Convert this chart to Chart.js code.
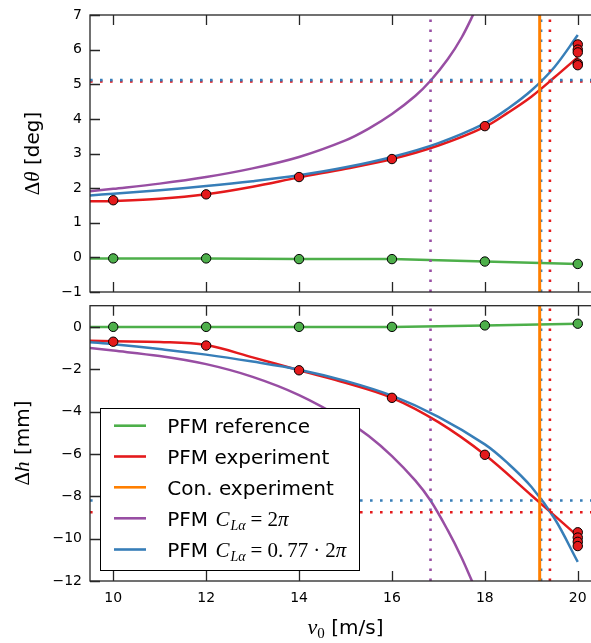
<!DOCTYPE html>
<html><head><meta charset="utf-8">
<script src="https://cdn.jsdelivr.net/npm/chart.js@4.4.1/dist/chart.umd.min.js"></script>
<style>
html,body{margin:0;padding:0;background:#fff;overflow:hidden;}
#wrap{position:relative;width:591px;height:643px;overflow:hidden;background:#fff;}
canvas{position:absolute;left:0;}
</style></head><body>
<div id="wrap">
<canvas id="cTop" width="610" height="300" style="top:0;width:610px;height:300px"></canvas>
<canvas id="cBot" width="610" height="343" style="top:300px;width:610px;height:343px"></canvas>
</div>
<script>
// ---- axes ----
const vTicks = [10, 12, 14, 16, 18, 20];
const vLim = [9.5, 20.5];
const thetaTicks = [-1, 0, 1, 2, 3, 4, 5, 6, 7];
const thetaLim = [-1, 7];
const hTicks = [-12, -10, -8, -6, -4, -2, 0];
const hLim = [-12, 1];

// ---- series names ----
const names = ['PFM reference', 'PFM experiment', 'Con. experiment', 'PFM C_Lα = 2π', 'PFM C_Lα = 0.77·2π'];
const colors = ['#4daf4a', '#e41a1c', '#ff7f00', '#984ea3', '#377eb8'];

// ---- measured points ----
const vRefPts = [10, 12, 14, 16, 18, 20];
const thetaRefPts = [-0.03, -0.03, -0.05, -0.05, -0.12, -0.19];
const hRefPts = [0, 0, 0, 0, 0.07, 0.15];
const vExpPtsTheta = [10, 12, 14, 16, 18, 20, 20, 20, 20, 20];
const thetaExpPts = [1.65, 1.82, 2.32, 2.84, 3.79, 6.15, 6.0, 5.92, 5.6, 5.55];
const vExpPtsH = [10, 12, 14, 16, 18, 20, 20, 20, 20];
const hExpPts = [-0.7, -0.88, -2.05, -3.35, -6.04, -9.7, -9.95, -10.15, -10.35];

// ---- PFM reference lines ----
const vRefLine = [9.5, 10, 12, 14, 16, 18, 20];
const thetaRefLine = [-0.03, -0.03, -0.03, -0.05, -0.05, -0.12, -0.19];
const hRefLine = [0, 0, 0, 0, 0, 0.07, 0.15];

// ---- PFM experiment curves ----
const vExpTheta = [9.5, 10, 11, 12, 13, 14, 15, 16, 17, 18, 18.5, 19, 19.5, 20];
const thetaExp = [1.62, 1.63, 1.69, 1.82, 2.04, 2.31, 2.56, 2.84, 3.23, 3.77, 4.18, 4.64, 5.2, 5.78];
const vExpH = [9.5, 10, 11, 12, 13, 14, 15, 16, 17, 18, 19, 20];
const hExp = [-0.66, -0.68, -0.71, -0.86, -1.44, -2.05, -2.64, -3.35, -4.5, -6.04, -7.95, -9.88];

// ---- PFM C_La = 2pi curves ----
const vFullTheta = [9.5, 10, 11, 12, 13, 14, 15, 15.5, 16, 16.5, 16.83, 17.2, 17.5, 17.8];
const thetaFull = [1.91, 1.98, 2.13, 2.32, 2.57, 2.9, 3.38, 3.72, 4.14, 4.66, 5.1, 5.72, 6.35, 7.15];
const vFullH = [9.5, 10, 11, 12, 13, 14, 15, 15.5, 16, 16.5, 16.83, 17.2, 17.5, 17.8];
const hFull = [-1.0, -1.12, -1.38, -1.76, -2.36, -3.22, -4.4, -5.15, -6.1, -7.25, -8.2, -9.6, -10.9, -12.4];

// ---- PFM C_La = 0.77*2pi curves ----
const vCalTheta = [9.5, 10, 11, 12, 13, 14, 15, 16, 17, 18, 18.5, 19, 19.5, 20];
const thetaCal = [1.79, 1.84, 1.94, 2.06, 2.2, 2.37, 2.6, 2.9, 3.3, 3.87, 4.3, 4.82, 5.5, 6.42];
const vCalH = [9.5, 10, 11, 12, 13, 14, 15, 16, 17, 18, 18.5, 19, 19.5, 20];
const hCal = [-0.72, -0.82, -1.05, -1.31, -1.64, -2.02, -2.55, -3.25, -4.25, -5.55, -6.45, -7.55, -9.05, -11.1];

// ---- reference / limit lines ----
const vConExp = 19.18;
const vLimitFull = 16.83;
const vLimitCal = 19.21;
const vLimitExp = 19.4;
const thetaLimitExp = 5.08;
const thetaLimitCal = 5.12;
const hLimitCal = -8.2;
const hLimitExp = -8.75;

// ================= rendering =================
const P = (xs, ys) => xs.map((x, i) => ({x, y: ys[i]}));
const fmt = v => String(v).replace('-', '\u2212');
const SANS = "'DejaVu Sans'";
const F_SANS20 = "20px 'DejaVu Sans'";
const F_MR = "21px 'Liberation Serif'";
const F_MI = "italic 21px 'Liberation Serif'";
const F_MS = "italic 14px 'Liberation Serif'";

function curve(data, color, order) {
  return {data, borderColor: color, borderWidth: 2.5, pointRadius: 0, tension: 0.35, fill: false, order};
}
function straight(data, color, order, w) {
  return {data, borderColor: color, borderWidth: w || 2.5, pointRadius: 0, tension: 0, fill: false, order};
}
function dotted(data, color) {
  return {data, borderColor: color, borderWidth: 2.6, borderDash: [2.6, 7.4], borderCapStyle: 'butt', pointRadius: 0, tension: 0, fill: false, order: 2};
}
function markers(data, color) {
  return {data, showLine: false, pointRadius: 4.7, pointHoverRadius: 4.7, pointBackgroundColor: color, pointBorderColor: '#000', pointBorderWidth: 1, order: 0};
}
function vline(v, lim) { return [{x: v, y: lim[0]}, {x: v, y: lim[1]}]; }
function hline(h) { return [{x: vLim[0], y: h}, {x: vLim[1], y: h}]; }

function zeroPad(s) { s.paddingTop = 0; s.paddingBottom = 0; s.paddingLeft = 0; s.paddingRight = 0; }

function scales(yLim, yTicks, showX, xH) {
  return {
    x: {type: 'linear', min: vLim[0], max: vLim[1],
      afterBuildTicks: s => { s.ticks = vTicks.map(v => ({value: v})); },
      afterFit: s => { s.height = xH; zeroPad(s); },
      grid: {display: false, drawTicks: false}, border: {display: false},
      ticks: {display: showX, padding: 9, autoSkip: false, maxRotation: 0, color: '#000',
        font: {family: SANS, size: 14}, callback: v => fmt(v)}},
    y: {type: 'linear', min: yLim[0], max: yLim[1],
      afterBuildTicks: s => { s.ticks = yTicks.map(v => ({value: v})); },
      afterFit: s => { s.width = 90; zeroPad(s); },
      grid: {display: false, drawTicks: false}, border: {display: false},
      ticks: {padding: 8, autoSkip: false, color: '#000',
        font: {family: SANS, size: 14}, callback: v => fmt(v)}}
  };
}

const frameTicks = {
  id: 'frameTicks',
  afterDatasetsDraw(chart) {
    const {ctx, chartArea: a, scales: {x, y}} = chart;
    ctx.save();
    ctx.strokeStyle = '#262626'; ctx.lineWidth = 1.3;
    ctx.strokeRect(a.left, a.top, a.right - a.left, a.bottom - a.top);
    const L = 10;
    ctx.beginPath();
    x.ticks.forEach(t => {
      const px = Math.round(x.getPixelForValue(t.value)) + 0.5;
      ctx.moveTo(px, a.top); ctx.lineTo(px, a.top + L);
      ctx.moveTo(px, a.bottom); ctx.lineTo(px, a.bottom - L);
    });
    y.ticks.forEach(t => {
      const py = Math.round(y.getPixelForValue(t.value)) + 0.5;
      ctx.moveTo(a.left, py); ctx.lineTo(a.left + L, py);
      ctx.moveTo(a.right, py); ctx.lineTo(a.right - L, py);
    });
    ctx.stroke();
    ctx.restore();
  }
};

function segWidth(ctx, segs) {
  let w = 0;
  segs.forEach(s => { ctx.font = s.f; s.w = ctx.measureText(s.t).width + (s.g || 0); w += s.w; });
  return w;
}
function drawSegs(ctx, segs, x, baseY) {
  segs.forEach(s => { ctx.font = s.f; ctx.fillText(s.t, x, baseY + (s.dy || 0)); x += s.w; });
}
function labelSegs(name) {
  const m = name.match(/^(PFM) C_Lα = (.*)$/);
  if (!m) return [{t: name, f: F_SANS20}];
  const segs = [{t: m[1] + ' ', f: F_SANS20, g: 1}, {t: 'C', f: F_MI, g: 1}, {t: 'Lα', f: F_MS, dy: 4, g: 5}, {t: '=', f: F_MR, g: 5}];
  const rest = m[2];
  if (rest.indexOf('·') >= 0) {
    const [a, b] = rest.split('·');
    const [i, d] = a.split('.');
    segs.push({t: i + '.', f: F_MR, g: 4}, {t: d, f: F_MR, g: 5}, {t: '·', f: F_MR, g: 5});
    segs.push({t: b.replace('π', ''), f: F_MR}, {t: 'π', f: F_MI});
  } else {
    segs.push({t: rest.replace('π', ''), f: F_MR}, {t: 'π', f: F_MI});
  }
  return segs;
}

function yTitle(segs, cx, cy) {
  return {
    id: 'yTitle',
    afterDraw(chart) {
      const ctx = chart.ctx;
      ctx.save();
      ctx.fillStyle = '#000'; ctx.textBaseline = 'alphabetic'; ctx.textAlign = 'left';
      ctx.translate(cx, cy); ctx.rotate(-Math.PI / 2);
      const w = segWidth(ctx, segs);
      drawSegs(ctx, segs, -w / 2, 6.5);
      ctx.restore();
    }
  };
}

const xTitle = {
  id: 'xTitle',
  afterDraw(chart) {
    const ctx = chart.ctx;
    const segs = [{t: 'v', f: "italic 22px 'Liberation Serif'"}, {t: '0', f: "15px 'Liberation Serif'", dy: 4}, {t: ' [m/s]', f: F_SANS20}];
    ctx.save();
    ctx.fillStyle = '#000'; ctx.textBaseline = 'alphabetic'; ctx.textAlign = 'left';
    const w = segWidth(ctx, segs);
    const a = chart.chartArea;
    drawSegs(ctx, segs, (a.left + a.right) / 2 - w / 2, 334);
    ctx.restore();
  }
};

const legendBox = {
  id: 'legendBox',
  afterDraw(chart) {
    const ctx = chart.ctx;
    ctx.save();
    ctx.fillStyle = '#fff'; ctx.strokeStyle = '#000'; ctx.lineWidth = 1;
    ctx.fillRect(100.5, 108.5, 259, 162);
    ctx.strokeRect(100.5, 108.5, 259, 162);
    const rows = [125.7, 156.5, 187.3, 218.3, 249.5];
    names.forEach((n, i) => {
      const y = rows[i];
      ctx.strokeStyle = colors[i]; ctx.lineWidth = 2.6;
      ctx.beginPath(); ctx.moveTo(114, y); ctx.lineTo(146, y); ctx.stroke();
      ctx.fillStyle = '#000'; ctx.textBaseline = 'alphabetic'; ctx.textAlign = 'left';
      const segs = labelSegs(n);
      segWidth(ctx, segs);
      drawSegs(ctx, segs, 167.3, y + 7.4);
    });
    ctx.restore();
  }
};

const common = {
  responsive: false, animation: false, devicePixelRatio: 1, events: [],
  plugins: {legend: {display: false}, tooltip: {enabled: false}}
};

new Chart(document.getElementById('cTop'), {
  type: 'line',
  data: {datasets: [
    markers(P(vRefPts, thetaRefPts), colors[0]),
    markers(P(vExpPtsTheta, thetaExpPts), colors[1]),
    straight(vline(vConExp, thetaLim), colors[2], 1, 3),
    dotted(vline(vLimitFull, thetaLim), colors[3]),
    dotted(vline(vLimitCal, thetaLim), colors[4]),
    dotted(vline(vLimitExp, thetaLim), colors[1]),
    dotted(hline(thetaLimitCal), colors[4]),
    dotted(hline(thetaLimitExp), colors[1]),
    curve(P(vCalTheta, thetaCal), colors[4], 3),
    curve(P(vExpTheta, thetaExp), colors[1], 4),
    curve(P(vFullTheta, thetaFull), colors[3], 5),
    straight(P(vRefLine, thetaRefLine), colors[0], 6)
  ]},
  options: Object.assign({}, common, {
    layout: {padding: {top: 15, right: 9, left: 0, bottom: 0}},
    scales: scales(thetaLim, thetaTicks, false, 8)
  }),
  plugins: [frameTicks, yTitle([{t: 'Δ', f: F_MR}, {t: 'θ', f: F_MI}, {t: ' [deg]', f: F_SANS20}], 32.5, 153.5)]
});

new Chart(document.getElementById('cBot'), {
  type: 'line',
  data: {datasets: [
    markers(P(vRefPts, hRefPts), colors[0]),
    markers(P(vExpPtsH, hExpPts), colors[1]),
    straight(vline(vConExp, hLim), colors[2], 1, 3),
    dotted(vline(vLimitFull, hLim), colors[3]),
    dotted(vline(vLimitCal, hLim), colors[4]),
    dotted(vline(vLimitExp, hLim), colors[1]),
    dotted(hline(hLimitCal), colors[4]),
    dotted(hline(hLimitExp), colors[1]),
    curve(P(vCalH, hCal), colors[4], 3),
    curve(P(vExpH, hExp), colors[1], 4),
    curve(P(vFullH, hFull), colors[3], 5),
    straight(P(vRefLine, hRefLine), colors[0], 6)
  ]},
  options: Object.assign({}, common, {
    layout: {padding: {top: 5, right: 9, left: 0, bottom: 0}},
    scales: scales(hLim, hTicks, true, 62)
  }),
  plugins: [frameTicks, yTitle([{t: 'Δ', f: F_MR}, {t: 'h', f: F_MI}, {t: ' [mm]', f: F_SANS20}], 22.5, 143), xTitle, legendBox]
});
</script>
</body></html>
